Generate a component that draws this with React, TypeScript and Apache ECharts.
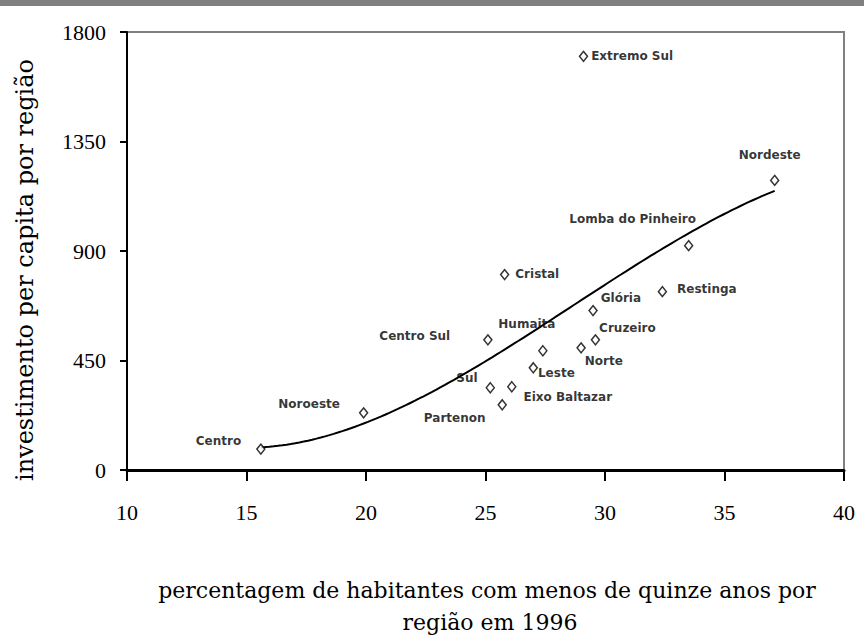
import React, { useEffect, useRef } from "react";
import * as echarts from "echarts";

const regionNames = [
  "Centro", "Noroeste", "Extremo Sul", "Nordeste", "Lomba do Pinheiro", "Cristal",
  "Glória", "Restinga", "Centro Sul", "Humaitá", "Cruzeiro", "Norte", "Leste",
  "Sul", "Eixo Baltazar", "Partenon",
];
const pctUnder15 = [15.6, 19.9, 29.1, 37.1, 33.5, 25.8, 29.5, 32.4, 25.1, 27.4, 29.6, 29.0, 27.0, 25.2, 26.1, 25.7];
const investPerCapita = [86, 235, 1700, 1190, 922, 803, 655, 733, 535, 490, 535, 502, 420, 338, 342, 268];

const xTicks = [10, 15, 20, 25, 30, 35, 40];
const yTicks = [0, 450, 900, 1350, 1800];

const labelPlace: Record<string, { position: string; offset: number[] }> = {
  "Centro": { position: "left", offset: [-10, -8] },
  "Noroeste": { position: "left", offset: [-14, -9] },
  "Extremo Sul": { position: "right", offset: [-2, 0] },
  "Nordeste": { position: "top", offset: [-5, -9] },
  "Lomba do Pinheiro": { position: "top", offset: [-56, -10] },
  "Cristal": { position: "right", offset: [1, -1] },
  "Glória": { position: "right", offset: [-2, -13] },
  "Restinga": { position: "right", offset: [5, -3] },
  "Centro Sul": { position: "left", offset: [-28, -4] },
  "Humaitá": { position: "top", offset: [-16, -10] },
  "Cruzeiro": { position: "right", offset: [-6, -12] },
  "Norte": { position: "right", offset: [-6, 13] },
  "Leste": { position: "right", offset: [-5, 5] },
  "Sul": { position: "left", offset: [-3, -10] },
  "Eixo Baltazar": { position: "right", offset: [2, 10] },
  "Partenon": { position: "left", offset: [-7, 13] },
};

// least-squares polynomial trendline (order 3) computed from the data
function polyFit(xs: number[], ys: number[], order: number) {
  const n = order + 1;
  const mx = xs.reduce((a, b) => a + b, 0) / xs.length;
  const A: number[][] = Array.from({ length: n }, () => new Array(n + 1).fill(0));
  xs.forEach((x0, k) => {
    const x = x0 - mx;
    for (let i = 0; i < n; i++) {
      for (let j = 0; j < n; j++) A[i][j] += Math.pow(x, i + j);
      A[i][n] += ys[k] * Math.pow(x, i);
    }
  });
  for (let i = 0; i < n; i++) {
    let p = i;
    for (let r = i + 1; r < n; r++) if (Math.abs(A[r][i]) > Math.abs(A[p][i])) p = r;
    [A[i], A[p]] = [A[p], A[i]];
    for (let r = 0; r < n; r++) {
      if (r === i) continue;
      const f = A[r][i] / A[i][i];
      for (let c = i; c <= n; c++) A[r][c] -= f * A[i][c];
    }
  }
  const coef = A.map((row, i) => row[n] / row[i]);
  return (x: number) => coef.reduce((s, c, i) => s + c * Math.pow(x - mx, i), 0);
}

export default function App() {
  const ref = useRef<HTMLDivElement>(null);
  useEffect(() => {
    if (!ref.current) return;
    const chart = echarts.init(ref.current, undefined, { renderer: "svg" });
    const f = polyFit(pctUnder15, investPerCapita, 3);
    const xmin = Math.min(...pctUnder15);
    const xmax = Math.max(...pctUnder15);
    const trend: number[][] = [];
    const steps = 120;
    for (let i = 0; i <= steps; i++) {
      const x = xmin + ((xmax - xmin) * i) / steps;
      trend.push([x, f(x)]);
    }
    const serif = "'Liberation Serif', 'Times New Roman', serif";
    const wideSerif = "'DejaVu Serif', serif";
    chart.setOption({
      animation: false,
      backgroundColor: "#ffffff",
      grid: {
        left: 127, right: 20, top: 32, bottom: 168,
        show: true, borderColor: "#808080", borderWidth: 2, backgroundColor: "transparent",
      },
      xAxis: {
        type: "value", min: xTicks[0], max: xTicks[xTicks.length - 1], interval: 5,
        axisLine: { show: true, lineStyle: { color: "#000", width: 3 } },
        axisTick: { show: true, inside: false, length: 11, lineStyle: { color: "#000", width: 2 } },
        splitLine: { show: false },
        axisLabel: { color: "#000", fontFamily: serif, fontSize: 22, margin: 31, formatter: (v: number) => String(v) },
      },
      yAxis: {
        type: "value", min: yTicks[0], max: yTicks[yTicks.length - 1], interval: 450,
        axisLine: { show: true, lineStyle: { color: "#000", width: 2 } },
        axisTick: { show: true, inside: false, length: 7, lineStyle: { color: "#000", width: 2 } },
        splitLine: { show: false },
        axisLabel: { color: "#000", fontFamily: serif, fontSize: 22, margin: 21, formatter: (v: number) => String(v) },
      },
      graphic: [
        { type: "rect", left: 0, top: 0, shape: { width: 864, height: 6 }, style: { fill: "#808080" } },
        {
          type: "text", x: 25, y: 270, rotation: Math.PI / 2,
          style: {
            text: "investimento per capita por região", fill: "#000",
            font: `24px ${wideSerif}`, align: "center", verticalAlign: "middle",
          },
        },
        {
          type: "text", x: 487, y: 590,
          style: {
            text: "percentagem de habitantes com menos de quinze anos por", fill: "#000",
            font: `22px ${wideSerif}`, align: "center", verticalAlign: "middle",
          },
        },
        {
          type: "text", x: 490, y: 622,
          style: {
            text: "região em 1996", fill: "#000",
            font: `22px ${wideSerif}`, align: "center", verticalAlign: "middle",
          },
        },
      ],
      series: [
        {
          type: "line", data: trend, showSymbol: false, smooth: false,
          lineStyle: { color: "#000", width: 2 }, silent: true, z: 2,
        },
        {
          type: "scatter", symbol: "diamond", symbolSize: [8, 10], z: 3,
          itemStyle: { color: "#fff", borderColor: "#000", borderWidth: 1.5 },
          data: regionNames.map((name, i) => ({
            name, value: [pctUnder15[i], investPerCapita[i]],
            label: {
              show: true, formatter: name, color: "#000",
              fontFamily: "'DejaVu Sans', sans-serif", fontWeight: "bold", fontSize: 12,
              position: labelPlace[name].position, offset: labelPlace[name].offset,
            },
          })),
        },
      ],
    });
    return () => chart.dispose();
  }, []);
  return <div ref={ref} style={{ width: 864, height: 638, position: "absolute", left: 0, top: 0 }} />;
}
